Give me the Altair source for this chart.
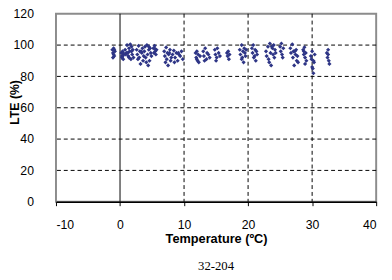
import altair as alt
import pandas as pd

# Temperature (ºC) and LTE (%) readings, cluster by cluster
temps = [
    -1.2, -1.1, -1.0, -0.9, -0.8, -1.1, -1.0, -0.9,
    0.2, 0.3, 0.4, 0.5, 0.6, 0.3, 0.5, 0.4,
    0.8, 1.0, 1.1, 1.3, 1.4, 1.5, 1.7, 1.8, 1.9, 2.0, 2.1, 1.2, 1.6, 0.9, 1.4, 1.8,
    2.6, 2.7, 2.9, 3.0, 3.1, 3.2, 3.4, 3.5, 3.6, 3.7, 2.8, 3.3,
    3.8, 3.9, 4.0, 4.2, 4.3, 4.4, 4.5, 4.6, 4.7, 4.8, 4.9, 4.1, 4.5,
    5.2, 5.3, 5.4, 5.5, 5.6, 5.7, 5.4,
    6.9, 7.0, 7.2, 7.3, 7.4, 7.5, 7.6, 7.8, 7.9, 8.0, 7.1, 7.7,
    8.2, 8.4, 8.6, 8.8, 9.0, 9.2, 9.4, 9.6, 9.8, 8.5, 9.1,
    11.8, 11.9, 12.0, 12.1, 12.2, 12.3, 12.5, 12.0,
    13.0, 13.1, 13.3, 13.5, 13.6, 13.8, 14.0, 13.2,
    14.8, 14.9, 15.1, 15.2, 15.4, 15.6, 15.0,
    16.7, 16.8, 16.9, 17.0, 17.1,
    18.7, 18.8, 19.0, 19.1, 19.2, 19.3, 19.4, 19.5, 19.6, 19.7, 19.0,
    20.6, 20.7, 20.8, 21.0, 21.1, 21.2, 21.3, 21.4, 20.9,
    22.8, 22.9, 23.1, 23.2, 23.4, 23.5, 23.6, 23.8, 23.9, 24.0, 24.1, 24.2, 24.3, 23.3, 23.7,
    25.0, 25.1, 25.2, 25.3, 25.4, 25.5,
    26.6, 26.7, 26.9, 27.0, 27.1, 27.2, 27.4, 27.5, 27.6, 27.7, 27.8, 27.3,
    28.6, 28.7, 28.8, 28.9, 29.0, 29.1, 28.7, 28.9,
    29.8, 29.9, 30.0, 30.1, 30.2, 30.3, 30.4, 30.0, 30.2,
    32.3, 32.4, 32.5, 32.6, 32.7, 32.5,
]
lte = [
    97, 95, 98, 93, 96, 92, 94, 97,
    95, 93, 96, 91, 94, 92, 95, 93,
    97, 95, 100, 93, 98, 96, 91, 99, 94, 97, 92, 95, 100.5, 94, 92, 96,
    97, 94, 99.5, 92, 96, 88, 95, 98, 90, 93, 91, 96,
    96, 99, 92, 100, 94, 87, 97, 90, 98, 95, 93, 89, 99,
    98, 95, 99.5, 96, 94, 97, 98,
    96, 93, 98.5, 91, 95, 87, 94, 97, 90, 92, 89, 95,
    94, 96.5, 92, 95, 90, 94, 93, 96, 91, 89, 95,
    95, 92, 96, 90, 94, 89, 93, 91,
    96, 93, 98, 91, 95, 94, 92, 90,
    97, 94, 92, 98, 95, 93, 90,
    95, 93, 96, 91, 94,
    97, 94, 100, 92, 96, 89, 98, 95, 93, 97, 91,
    98, 95, 100, 93, 97, 90, 96, 94, 92,
    96, 93, 99, 91, 101, 95, 87, 98, 94, 100, 92, 97, 95, 89, 99,
    99, 96, 101, 94, 92, 98,
    98, 95, 100.5, 92, 96, 87, 94, 97, 90, 93, 89, 96,
    97, 94, 98.6, 92, 95, 90, 96, 88,
    93, 91, 96, 85, 82, 89, 94, 86, 90,
    95, 92, 97, 90, 88, 94,
]

x_ticks = [-10, 0, 10, 20, 30, 40]
y_ticks = [0, 20, 40, 60, 80, 100, 120]
x_grid = [10, 20, 30]
y_grid = [20, 40, 60, 80, 100]
zero_line = [0]

pts = pd.DataFrame({"t": temps, "lte": lte})

FONT = "Liberation Sans"
xscale = alt.Scale(domain=[-10, 40], nice=False, zero=False)
yscale = alt.Scale(domain=[0, 120], nice=False)

xaxis = alt.Axis(
    values=x_ticks,
    labelExpr="'' + datum.value",
    labelOverlap=False,
    title="Temperature (ºC)",
    grid=False,
    tickSize=4,
    tickColor="black",
    domainColor="black",
    domainWidth=1.5,
    labelPadding=13,
    labelFont=FONT,
    labelFontSize=12.5,
    labelColor="black",
    titleFont=FONT,
    titleFontSize=13,
    titleFontWeight="bold",
    titleColor="black",
    titleBaseline="top",
    titleY=32,
)
yaxis = alt.Axis(
    values=y_ticks,
    labelOverlap=False,
    title="LTE (%)",
    grid=False,
    ticks=False,
    domain=False,
    labelPadding=23,
    labelFont=FONT,
    labelFontSize=12.5,
    labelColor="black",
    titleFont=FONT,
    titleFontSize=12.5,
    titleFontWeight="bold",
    titleColor="black",
    titleBaseline="middle",
    titleX=-42,
    titleY=90,
)

vgrid = alt.Chart(pd.DataFrame({"v": x_grid})).mark_rule(
    color="black", strokeDash=[4, 3], strokeWidth=1
).encode(x=alt.X("v:Q", scale=xscale, axis=xaxis, title="Temperature (ºC)"))

hgrid = alt.Chart(pd.DataFrame({"v": y_grid})).mark_rule(
    color="black", strokeDash=[4, 3], strokeWidth=1
).encode(y=alt.Y("v:Q", scale=yscale, axis=yaxis, title="LTE (%)"))

zline = alt.Chart(pd.DataFrame({"v": zero_line})).mark_rule(
    color="black", strokeWidth=1
).encode(x=alt.X("v:Q", scale=xscale, axis=xaxis, title="Temperature (ºC)"))

points = alt.Chart(pts).mark_point(
    shape="diamond", filled=True, size=18, color="#2E3586", opacity=1
).encode(
    x=alt.X("t:Q", scale=xscale, axis=xaxis, title="Temperature (ºC)"),
    y=alt.Y("lte:Q", scale=yscale, axis=yaxis, title="LTE (%)"),
)

chart = alt.layer(hgrid, vgrid, zline, points).properties(
    width=327,
    height=192,
    padding={"left": 49, "top": 3, "right": 8, "bottom": 75},
    autosize=alt.AutoSizeParams(type="none"),
    title=alt.TitleParams(
        "32-204", orient="bottom", anchor="middle", font="Liberation Serif",
        fontSize=13, fontWeight="normal", color="black", offset=15,
    ),
).configure_view(stroke="#8c8c8c", strokeWidth=2)

chart.save("out.html", embed_options={"renderer": "svg", "actions": False})
